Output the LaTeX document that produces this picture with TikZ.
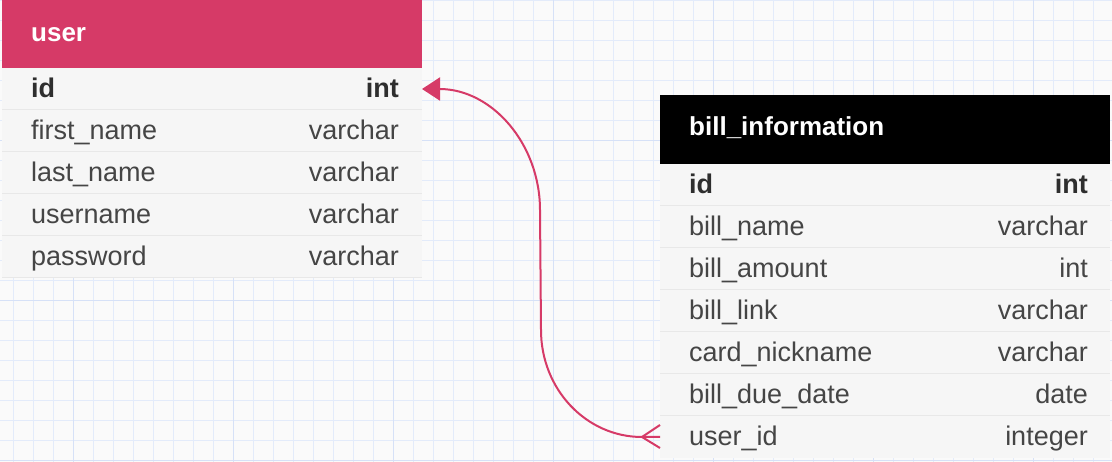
\documentclass[tikz,border=0pt]{standalone}
\usepackage{fontspec}
\setmainfont{Liberation Sans}
\usetikzlibrary{arrows.meta}
\definecolor{bgcol}{HTML}{FAFAFA}
\definecolor{rowcol}{HTML}{F6F6F6}
\definecolor{sepcol}{HTML}{E8E8E8}
\definecolor{gridlight}{HTML}{E3EBFA}
\definecolor{griddark}{HTML}{D6E1F7}
\definecolor{userpink}{HTML}{D63A67}
\definecolor{fieldtext}{HTML}{454545}
\definecolor{keytext}{HTML}{2E2E2E}
\tikzset{
  row/.style={fill=rowcol, minimum height=42pt, inner sep=0pt, outer sep=0pt},
  hdr/.style={minimum height=68pt, inner sep=0pt, outer sep=0pt},
  hdrtext/.style={text=white, font=\fontsize{26}{30}\selectfont\bfseries, inner sep=0pt},
  field/.style={text=fieldtext, font=\fontsize{27}{30}\selectfont, inner sep=0pt},
  keyfield/.style={text=keytext, font=\fontsize{27}{30}\selectfont\bfseries, inner sep=0pt},
  sepline/.style={sepcol, line width=1pt},
  link/.style={userpink, line width=2pt},
}
\begin{document}
\begin{tikzpicture}[x=1pt,y=-1pt]
\fill[bgcol] (0,0) rectangle (1112,462);
\useasboundingbox (0,0) rectangle (1112,462);
% grid
\foreach \x in {13.3,33.3,...,1113.3}
    \draw[gridlight, line width=0.8pt] (\x,0) -- (\x,462);
\foreach \y in {0.7,20.7,...,461}
    \draw[gridlight, line width=0.8pt] (0,\y) -- (1112,\y);
\foreach \x in {73.3,233.3,...,1113.3}
    \draw[griddark, line width=1pt] (\x,0) -- (\x,462);
\foreach \y in {140.7,300.7,460.7}
    \draw[griddark, line width=1pt] (0,\y) -- (1112,\y);

% table user
\node[hdr, fill=userpink, minimum width=420pt, anchor=north west] (user) at (2,0) {};
\node[hdrtext, anchor=base west] at ([shift={(29pt,-42pt)}]user.north west) {user};
\node[row, minimum width=420pt, anchor=north west] (user-id) at (2,68) {};
\node[keyfield, anchor=base west] at ([shift={(29pt,-30pt)}]user-id.north west) {id};
\node[keyfield, anchor=base east] at ([shift={(-23pt,-30pt)}]user-id.north east) {int};
\foreach \n/\f/\t [count=\i] in {fname/first\_name/varchar, lname/last\_name/varchar,
    uname/username/varchar, pass/password/varchar}
    {\node[row, minimum width=420pt, anchor=north west] (user-\n) at (2,{68+42*\i}) {};
    \draw[sepline] (user-\n.north west) -- (user-\n.north east);
    \node[field, anchor=base west] at ([shift={(29pt,-30pt)}]user-\n.north west) {\f};
    \node[field, anchor=base east] at ([shift={(-23pt,-30pt)}]user-\n.north east) {\t};}
\draw[sepline] (user-pass.south west) -- (user-pass.south east);

% table bill_information
\node[hdr, fill=black, minimum width=450pt, minimum height=69pt, anchor=north west] (bill) at (660,95) {};
\node[hdrtext, anchor=base west] at ([shift={(29pt,-41pt)}]bill.north west) {bill\_information};
\node[row, minimum width=450pt, anchor=north west] (bill-id) at (660,164) {};
\node[keyfield, anchor=base west] at ([shift={(29pt,-30pt)}]bill-id.north west) {id};
\node[keyfield, anchor=base east] at ([shift={(-22pt,-30pt)}]bill-id.north east) {int};
\foreach \n/\f/\t [count=\i] in {bname/bill\_name/varchar, bamount/bill\_amount/int,
    blink/bill\_link/varchar, nick/card\_nickname/varchar, due/bill\_due\_date/date,
    uid/user\_id/integer}
    {\node[row, minimum width=450pt, anchor=north west] (bill-\n) at (660,{164+42*\i}) {};
    \draw[sepline] (bill-\n.north west) -- (bill-\n.north east);
    \node[field, anchor=base west] at ([shift={(29pt,-30pt)}]bill-\n.north west) {\f};
    \node[field, anchor=base east] at ([shift={(-22pt,-30pt)}]bill-\n.north east) {\t};}

% relation user.id -< bill_information.user_id
\coordinate (bend1) at (540,210);
\coordinate (bend2) at (541,330);
\coordinate (foot) at ([xshift=-18pt]bill-uid.west);
\draw[link, {Triangle[length=18pt,width=23pt]}-] (user-id.east)
    .. controls +(70,0) and +(0,-66) .. (bend1) -- (bend2)
    .. controls +(0,59) and +(-56,0) .. (foot) -- (bill-uid.west);
\draw[link] (foot) -- ([yshift=12pt]bill-uid.west);
\draw[link] (foot) -- ([yshift=-11pt]bill-uid.west);
\end{tikzpicture}
\end{document}
